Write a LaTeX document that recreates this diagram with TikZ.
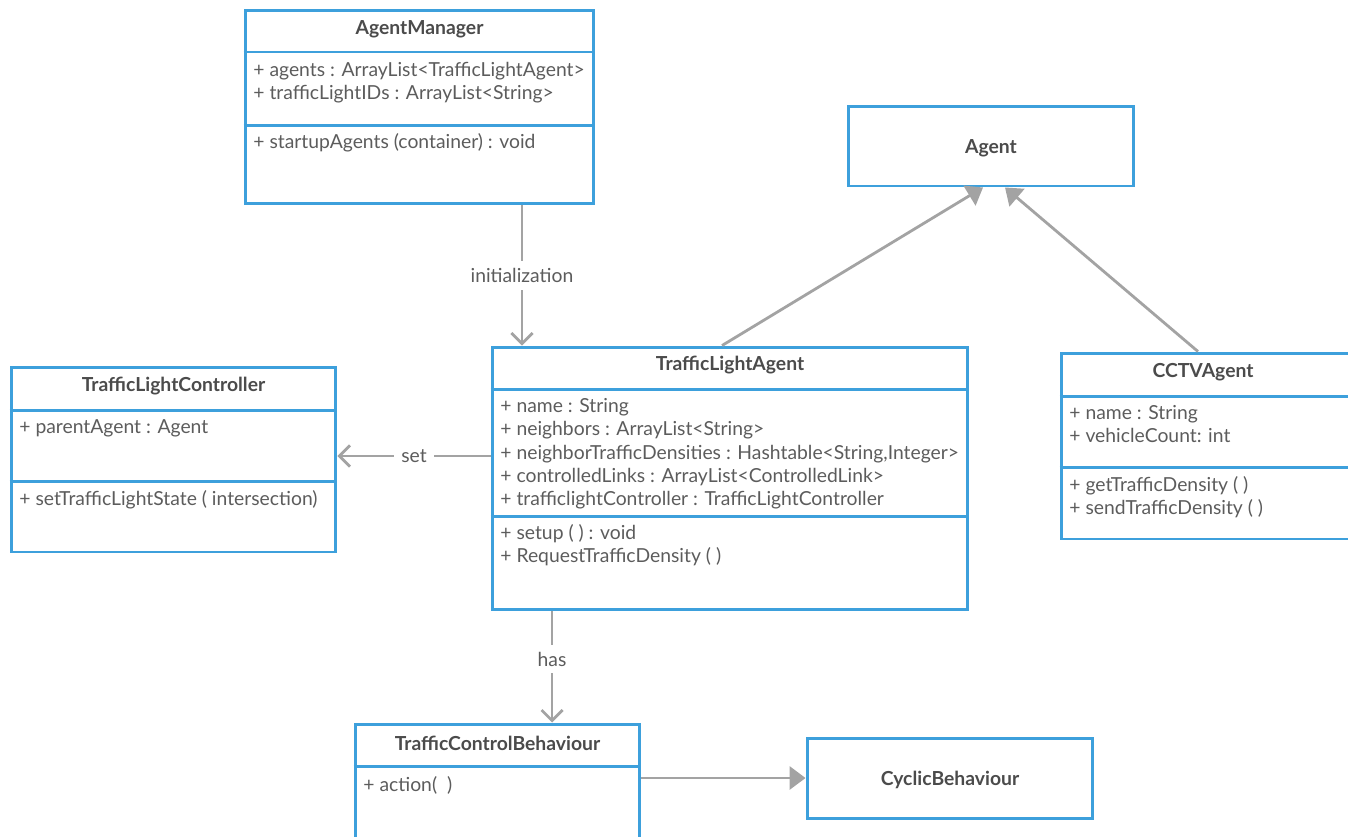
\documentclass[tikz,border=0pt]{standalone}
\usepackage{fontspec}
\setmainfont{Lato}
\usetikzlibrary{arrows.meta}

\definecolor{umlblue}{HTML}{3DA0DC}
\definecolor{umltitle}{HTML}{4B4B4B}
\definecolor{umltext}{HTML}{5C5C5C}
\definecolor{umlline}{HTML}{A3A3A3}

\begin{document}
\begin{tikzpicture}[x=0.02cm, y=-0.02cm,
  classbox/.style={draw=umlblue, line width=1.7pt, inner sep=0pt},
  divider/.style={draw=umlblue, line width=1.7pt},
  classname/.style={font=\bfseries\fontsize{11}{13}\selectfont, text=umltitle, yshift=-0.04cm},
  member/.style={font=\fontsize{11}{13.3}\selectfont, text=umltext, align=left, anchor=north west, inner sep=0pt},
  assoc/.style={draw=umlline, line width=1.6pt, -{Straight Barb[length=6pt,width=12pt]}},
  inherit/.style={draw=umlline, line width=1.6pt, -{Triangle[length=9pt,width=13pt]}},
  lbl/.style={fill=white, text=umltext, font=\fontsize{11}{13}\selectfont, inner sep=4pt}
]
\useasboundingbox (0,0) rectangle (1348,836);
\clip (0,0) rectangle (1348,836);

% class boxes
  \node[classbox, minimum width=6.98cm, minimum height=3.88cm] (am) at (419.5,107) {};
  \node[classbox, minimum width=5.72cm, minimum height=1.6cm] (agent) at (991,146) {};
  \node[classbox, minimum width=9.52cm, minimum height=5.26cm] (tla) at (730,478.5) {};
  \node[classbox, minimum width=6.5cm, minimum height=3.7cm] (tlc) at (173.5,459.5) {};
  \node[classbox, minimum width=5.82cm, minimum height=3.72cm] (cctv) at (1206.5,446) {};
  \node[classbox, minimum width=5.7cm, minimum height=2.52cm] (tcb) at (497.5,787) {};
  \node[classbox, minimum width=5.72cm, minimum height=1.6cm] (cyc) at (950,778) {};

  % compartments
  \draw[divider] (am.west |- 0,52) -- (am.east |- 0,52);
  \draw[divider] (am.west |- 0,125) -- (am.east |- 0,125);
  \draw[divider] (tla.west |- 0,389) -- (tla.east |- 0,389);
  \draw[divider] (tla.west |- 0,516) -- (tla.east |- 0,516);
  \draw[divider] (tlc.west |- 0,410) -- (tlc.east |- 0,410);
  \draw[divider] (tlc.west |- 0,481) -- (tlc.east |- 0,481);
  \draw[divider] (cctv.west |- 0,396) -- (cctv.east |- 0,396);
  \draw[divider] (cctv.west |- 0,467) -- (cctv.east |- 0,467);
  \draw[divider] (tcb.west |- 0,766) -- (tcb.east |- 0,766);

  % AgentManager
  \node[classname] (amname) at (419.5,27) {AgentManager};
  \node[member] (amattr) at (253,62) {+ agents : ArrayList<TrafficLightAgent>\\+ trafficLightIDs : ArrayList<String>};
  \node[member] (amop) at (253,133) {+ startupAgents (container) : void};

  % Agent
  \node[classname] (agentname) at (991,146) {Agent};

  % TrafficLightAgent
  \node[classname] (tlaname) at (730,363) {TrafficLightAgent};
  \node[member] (tlaattr) at (500,398) {+ name : String\\+ neighbors : ArrayList<String>\\+ neighborTrafficDensities : Hashtable<String,Integer>\\+ controlledLinks : ArrayList<ControlledLink>\\+ trafficlightController : TrafficLightController};
  \node[member] (tlaop) at (500,524) {+ setup ( ) : void\\+ RequestTrafficDensity ( )};

  % TrafficLightController
  \node[classname] (tlcname) at (173.5,384) {TrafficLightController};
  \node[member] (tlcattr) at (19,419) {+ parentAgent : Agent};
  \node[member] (tlcop) at (19,490) {+ setTrafficLightState ( intersection)};

  % CCTVAgent
  \node[classname] (cctvname) at (1203,370) {CCTVAgent};
  \node[member] (cctvattr) at (1069,405) {+ name : String\\+ vehicleCount: int};
  \node[member] (cctvop) at (1069,476) {+ getTrafficDensity ( )\\+ sendTrafficDensity ( )};

  % behaviours
  \node[classname] (tcbname) at (497.5,741) {TrafficControlBehaviour};
  \node[member] (tcbop) at (363,776) {+ action(\ \ )};
  \node[classname] (cycname) at (950,778) {CyclicBehaviour};

% connectors
  \draw[assoc] ([xshift=2.05cm]am.south) -- node[lbl] {initialization} ([xshift=2.05cm]am.south |- tla.north);
  \draw[inherit] ([xshift=-0.16cm]tla.north) -- ([xshift=-0.16cm]agent.south);
  \draw[inherit] ([xshift=-0.17cm]cctv.north) -- ([xshift=0.28cm]agent.south);
  \draw[assoc] ([yshift=0.07cm]tla.west |- tlc.east) -- node[lbl] {set} ([yshift=0.07cm]tlc.east);
  \draw[assoc] ([xshift=-3.56cm]tla.south) -- node[lbl, pos=0.43] {has} ([xshift=-3.56cm]tla.south |- tcb.north);
  \draw[inherit] (tcb.east |- cyc.west) -- (cyc.west);

\end{tikzpicture}
\end{document}
